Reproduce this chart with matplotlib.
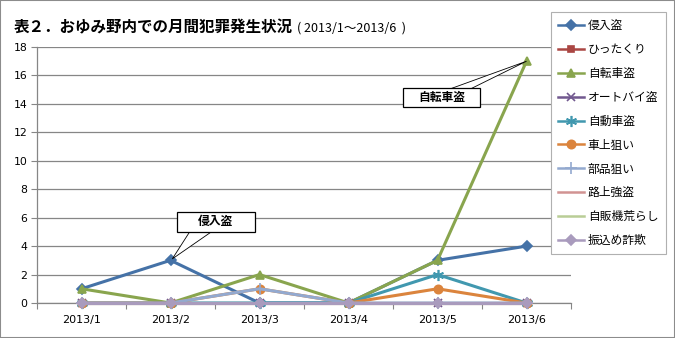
import matplotlib.pyplot as plt
import numpy as np
from matplotlib.patches import Rectangle, Polygon

plt.rcParams['font.family'] = ['Noto Sans CJK JP', 'DejaVu Sans']

months = ["2013/1", "2013/2", "2013/3", "2013/4", "2013/5", "2013/6"]

shinnyu = [1, 3, 0, 0, 3, 4]          # 侵入盗
hittakuri = [0, 0, 0, 0, 0, 0]        # ひったくり
jitensha = [1, 0, 2, 0, 3, 17]        # 自転車盗
autobai = [0, 0, 0, 0, 0, 0]          # オートバイ盗
jidosha = [0, 0, 0, 0, 2, 0]          # 自動車盗
shajo = [0, 0, 1, 0, 1, 0]            # 車上狙い
buhin = [0, 0, 1, 0, 0, 0]            # 部品狙い
rojo = [0, 0, 0, 0, 0, 0]             # 路上強盗
jihanki = [0, 0, 0, 0, 0, 0]          # 自販機荒らし
furikome = [0, 0, 0, 0, 0, 0]         # 振込め詐欺

series = [
    ("侵入盗", shinnyu, "#4572A7", "D", 5),
    ("ひったくり", hittakuri, "#AA4643", "s", 5),
    ("自転車盗", jitensha, "#89A54E", "^", 6),
    ("オートバイ盗", autobai, "#71588F", "x", 6),
    ("自動車盗", jidosha, "#4198AF", (6, 2, 0), 8),
    ("車上狙い", shajo, "#DB843D", "o", 6),
    ("部品狙い", buhin, "#93A9CF", "+", 8),
    ("路上強盗", rojo, "#D19392", None, 0),
    ("自販機荒らし", jihanki, "#B9CD96", None, 0),
    ("振込め詐欺", furikome, "#A99BBD", "D", 5),
]

fig = plt.figure(figsize=(6.75, 3.38), dpi=100)
ax = fig.add_axes([37 / 675, 1 - 303 / 338, 534 / 675, 256 / 338])

x = np.arange(len(months))
for name, vals, color, marker, ms in series:
    ax.plot(x, vals, color=color, lw=2.2, marker=marker, markersize=ms,
            markerfacecolor=color, markeredgecolor=color, markeredgewidth=1.2,
            label=name, clip_on=False, zorder=3)

ax.set_xlim(-0.5, len(months) - 0.5)
ax.set_ylim(0, 18)
ax.set_yticks(np.arange(0, 19, 2))
ax.yaxis.grid(True, color="#868686", lw=0.9)
ax.set_axisbelow(True)

ax.set_xticks(np.arange(-0.5, len(months), 1))
ax.set_xticklabels([])
ax.set_xticks(x, minor=True)
ax.set_xticklabels(months, minor=True, family="DejaVu Sans", fontsize=8)
ax.tick_params(axis="x", which="major", length=4, color="#868686", direction="out")
ax.tick_params(axis="x", which="minor", length=0, pad=9)
ax.tick_params(axis="y", length=4, color="#868686", direction="out", labelsize=7.8, pad=3)
for lbl in ax.get_yticklabels():
    lbl.set_family("DejaVu Sans")

for side in ("top", "right"):
    ax.spines[side].set_visible(False)
for side in ("left", "bottom"):
    ax.spines[side].set_color("#868686")
    ax.spines[side].set_linewidth(0.9)

# callouts: box + wedge pointing at a data point
def callout(text, box, base, tip):
    x0, x1, y0, y1 = box
    ax.add_patch(Polygon([(base[0], base[2]), (base[1], base[2]), tip], closed=True,
                         fc="white", ec="black", lw=0.6, zorder=6, clip_on=False))
    ax.add_patch(Rectangle((x0, y0), x1 - x0, y1 - y0, fc="white", ec="black",
                           lw=0.9, zorder=7, clip_on=False))
    ax.text((x0 + x1) / 2, (y0 + y1) / 2, text, ha="center", va="center",
            fontsize=8.5, fontweight="bold", zorder=8)

callout("侵入盗", (1.07, 1.95, 5.0, 6.4), (1.22, 1.47, 5.05), (1.02, 3.1))
callout("自転車盗", (3.61, 4.48, 13.8, 15.1), (4.14, 4.37, 15.05), (5.0, 17.0))

leg = fig.legend(loc="upper left", bbox_to_anchor=(551 / 675, 1 - 12 / 338),
                 fontsize=8.5, frameon=True, fancybox=False, edgecolor="#b0b0b0",
                 framealpha=1, borderpad=0.62, labelspacing=0.92,
                 handlelength=2.2, handletextpad=0.3, borderaxespad=0)
leg.get_frame().set_linewidth(0.8)
for line in leg.get_lines():
    line.set_linewidth(1.8)

fig.text(14 / 675, 1 - 27 / 338, "表２．おゆみ野内での月間犯罪発生状況",
         fontsize=11.2, fontweight="bold", va="center", ha="left")
fig.text(297 / 675, 1 - 28 / 338, "( 2013/1～2013/6  )",
         fontsize=9, va="center", ha="left")

fig.patches.append(Rectangle((0, 0), 1, 1, transform=fig.transFigure, fill=False,
                             ec="#8c8c8c", lw=1.5))

fig.savefig("out.png", dpi=100)
